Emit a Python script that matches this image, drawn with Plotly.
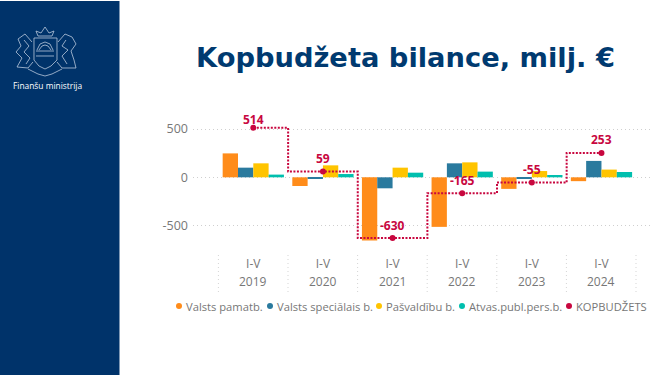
import plotly.graph_objects as go

W, H = 665, 375

years = ["2019", "2020", "2021", "2022", "2023", "2024"]
period = ["I-V", "I-V", "I-V", "I-V", "I-V", "I-V"]

valsts_pamatb = [248, -90, -655, -514, -120, -40]
valsts_specialais = [100, -10, -114, 145, -15, 170]
pasvaldibu = [145, 124, 100, 155, 65, 80]
atvas_publ = [28, 34, 48, 59, 24, 55]
kopbudzets = [514, 59, -630, -165, -55, 253]

NAVY = "#00336a"
GREY = "#777777"
bar_series = [
    ("Valsts pamatb.", valsts_pamatb, "#ff8c1a"),
    ("Valsts speciālais b.", valsts_specialais, "#2a7a9e"),
    ("Pašvaldību b.", pasvaldibu, "#ffc400"),
    ("Atvas.publ.pers.b.", atvas_publ, "#00bfae"),
]
LINE_COLOR = "#c8073f"


def px(x, y):
    return x / W, 1 - y / H


def path(points, close=False):
    cmds = []
    for i, (x, y) in enumerate(points):
        xp, yp = px(x, y)
        cmds.append(f"{'M' if i == 0 else 'L'}{xp:.4f},{yp:.4f}")
    return " ".join(cmds) + (" Z" if close else "")


fig = go.Figure()

for name, values, color in bar_series:
    fig.add_trace(go.Bar(x=years, y=values, name=name, marker_color=color,
                         marker_line_width=0, showlegend=False))

fig.add_trace(go.Scatter(x=years, y=kopbudzets, name="KOPBUDŽETS", mode="lines+markers",
                         line=dict(color=LINE_COLOR, width=2, dash="2px,1.5px", shape="hvh"),
                         marker=dict(color=LINE_COLOR, size=6), showlegend=False))

fig.update_layout(
    width=W, height=H,
    margin=dict(l=0, r=0, t=0, b=0),
    paper_bgcolor="white", plot_bgcolor="white",
    barmode="group", bargap=0.12, bargroupgap=0,
    font=dict(family="Open Sans", color=GREY, size=12),
)

fig.update_xaxes(
    domain=[193 / W, 653 / W], range=[-0.866, 5.74],
    type="category", tickmode="array", tickvals=years, ticktext=period,
    showgrid=False, zeroline=False, showline=False, ticks="", ticklabelstandoff=10,
    tickfont=dict(size=12, color=GREY),
)
fig.update_yaxes(
    domain=[1 - 245 / H, 1 - 110 / H], range=[-702, 698],
    tickvals=[-500, 0, 500], ticktext=["-500", "0", "500"],
    showgrid=True, griddash="1px,3px", gridcolor="#cfcfcf", gridwidth=1,
    zeroline=False, showline=False, ticks="", ticklabelstandoff=4,
    tickfont=dict(size=12.5, color=GREY),
)

shapes = []
annotations = []

# sidebar
x0, y0 = px(0, 1)
x1, y1 = px(119.5, H)
shapes.append(dict(type="rect", xref="paper", yref="paper", x0=x0, y0=y0, x1=x1, y1=y1,
                   fillcolor=NAVY, line_width=0, layer="below"))

# rough coat of arms
emblem = [
    [(34, 38), (57, 38), (57, 60), (51, 66), (45, 69), (39, 66), (34, 60), (34, 38)],
    [(37, 50), (40, 44), (45, 42), (50, 44), (53, 50)],
    [(39, 50), (42, 46), (45, 45), (48, 46), (51, 50)],
    [(36, 51), (54, 51)],
    [(36, 56), (54, 56)],
    [(38, 36), (36, 31), (41, 33), (45, 27), (49, 33), (54, 31), (52, 36), (38, 36)],
    [(32, 42), (25, 34), (18, 39), (21, 46), (16, 52), (22, 58), (17, 67), (28, 68), (33, 62)],
    [(24, 40), (29, 46), (24, 52), (30, 58), (26, 64)],
    [(58, 42), (65, 34), (72, 37), (76, 44), (71, 51), (74, 60), (76, 68), (62, 68), (57, 62)],
    [(66, 40), (62, 46), (68, 50), (62, 56), (67, 64)],
    [(28, 69), (38, 74), (45, 76), (52, 74), (62, 69)],
]
for pts in emblem:
    shapes.append(dict(type="path", xref="paper", yref="paper", path=path(pts),
                       line=dict(color="#b9c8dc", width=0.8)))

# dotted dividers under the plot
band_edges = [218.4, 288, 357.6, 427.2, 496.8, 566.4, 636]
for edge in band_edges:
    xp, yt = px(edge, 255)
    _, yb = px(edge, 292)
    shapes.append(dict(type="line", xref="paper", yref="paper", x0=xp, x1=xp, y0=yb, y1=yt,
                       line=dict(color="#d5d5d5", width=1, dash="1px,3px")))

# year labels
for i, year in enumerate(years):
    annotations.append(dict(x=i, xref="x", y=px(0, 281.5)[1], yref="paper", text=year,
                            showarrow=False, yanchor="middle", font=dict(size=12, color=GREY)))

# value labels above the line markers
for i, value in enumerate(kopbudzets):
    annotations.append(dict(x=i, xref="x", y=value, yref="y", text=f"<b>{value}</b>",
                            showarrow=False, yanchor="middle", yshift=8 if i == 0 else 13,
                            font=dict(size=12, color=LINE_COLOR)))

# legend row
legend_items = [(s[0], s[2]) for s in bar_series] + [("KOPBUDŽETS", LINE_COLOR)]
legend_dots = [179, 270, 379, 462, 569]
for (name, color), dot_x in zip(legend_items, legend_dots):
    a0, b0 = px(dot_x - 3, 303)
    a1, b1 = px(dot_x + 3, 309)
    shapes.append(dict(type="circle", xref="paper", yref="paper", x0=a0, x1=a1, y0=b1, y1=b0,
                       fillcolor=color, line_width=0))
    tx, ty = px(dot_x + 6, 306)
    annotations.append(dict(x=tx, y=ty, xref="paper", yref="paper", text=name, showarrow=False,
                            xanchor="left", yanchor="middle", xshift=-1,
                            font=dict(size=11.2, color=GREY)))

# header texts
tx, ty = px(405, 57)
annotations.append(dict(x=tx, y=ty, xref="paper", yref="paper", text="<b>Kopbudžeta bilance, milj. €</b>",
                        showarrow=False, yanchor="middle",
                        font=dict(family="DejaVu Sans", size=27.3, color="#003a70")))
tx, ty = px(11, 85)
annotations.append(dict(x=tx, y=ty, xref="paper", yref="paper", text="Finanšu ministrija", showarrow=False,
                        xanchor="left", yanchor="middle",
                        font=dict(family="Open Sans", size=8.4, color="white")))

fig.update_layout(shapes=shapes, annotations=annotations)

fig.write_html("out.html", config={"displayModeBar": False},
               post_script="document.body.style.margin='0';document.body.style.overflow='hidden';")
